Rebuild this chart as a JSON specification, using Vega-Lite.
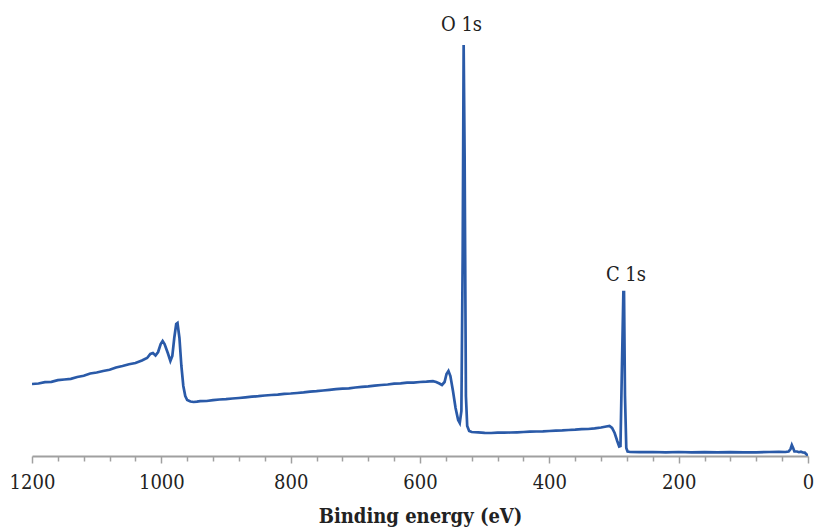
{
  "$schema": "https://vega.github.io/schema/vega-lite/v6.json",
  "width": 776,
  "height": 446,
  "autosize": {"type": "none"},
  "padding": {"left": 32, "top": 10, "right": 6, "bottom": 72},
  "background": "white",
  "config": {"view": {"stroke": null}},
  "datasets": {
    "spectrum": [
      {"E":1200,"I":72},{"E":1190,"I":72.5},{"E":1180,"I":73.8},{"E":1170,"I":74.2},{"E":1160,"I":75.8},
      {"E":1150,"I":76.5},{"E":1140,"I":77.2},{"E":1130,"I":79},{"E":1120,"I":80.2},{"E":1110,"I":82.5},
      {"E":1100,"I":83.5},{"E":1090,"I":85},{"E":1080,"I":86.2},{"E":1070,"I":88.5},{"E":1060,"I":90},
      {"E":1050,"I":91.8},{"E":1040,"I":93},{"E":1030,"I":95.5},{"E":1022,"I":98},{"E":1017,"I":102},
      {"E":1013,"I":103},{"E":1009,"I":100.5},{"E":1005,"I":104},{"E":1001,"I":112},{"E":998,"I":115},
      {"E":995,"I":112},{"E":990,"I":103},{"E":986,"I":95},{"E":983,"I":100},{"E":980,"I":118},
      {"E":977,"I":132},{"E":975,"I":133},{"E":972,"I":118},{"E":969,"I":90},{"E":966,"I":70},
      {"E":963,"I":60},{"E":960,"I":56},{"E":955,"I":54.5},{"E":950,"I":54},{"E":945,"I":54.3},
      {"E":940,"I":54.8},{"E":930,"I":55},{"E":920,"I":55.8},{"E":910,"I":56.5},{"E":900,"I":56.8},
      {"E":890,"I":57.5},{"E":880,"I":58},{"E":870,"I":58.6},{"E":860,"I":59.3},{"E":850,"I":59.8},
      {"E":840,"I":60.5},{"E":830,"I":61},{"E":820,"I":61.4},{"E":810,"I":62.2},{"E":800,"I":62.5},
      {"E":790,"I":63},{"E":780,"I":63.6},{"E":770,"I":64.4},{"E":760,"I":64.8},{"E":750,"I":65.5},
      {"E":740,"I":66.2},{"E":730,"I":66.8},{"E":720,"I":67.3},{"E":710,"I":67.6},{"E":700,"I":68.5},
      {"E":690,"I":69.2},{"E":680,"I":69.6},{"E":670,"I":70.4},{"E":660,"I":71},{"E":650,"I":71.5},
      {"E":640,"I":72.4},{"E":630,"I":72.6},{"E":620,"I":73.3},{"E":610,"I":73.4},{"E":600,"I":74},
      {"E":590,"I":74.3},{"E":580,"I":74.8},{"E":575,"I":74},{"E":570,"I":72.5},{"E":566,"I":71},
      {"E":562,"I":74},{"E":559,"I":82},{"E":556,"I":85},{"E":553,"I":80},{"E":549,"I":65},
      {"E":545,"I":48},{"E":541,"I":36},{"E":538.5,"I":33},{"E":536,"I":45},{"E":534,"I":200},
      {"E":532.5,"I":411},{"E":531,"I":300},{"E":529,"I":60},{"E":527,"I":30},{"E":524,"I":25},
      {"E":520,"I":24},{"E":510,"I":23.6},{"E":500,"I":23.2},{"E":490,"I":23},{"E":480,"I":23.3},
      {"E":470,"I":23.4},{"E":460,"I":23.5},{"E":450,"I":23.7},{"E":440,"I":24},{"E":430,"I":24.3},
      {"E":420,"I":24.5},{"E":410,"I":24.6},{"E":400,"I":25},{"E":390,"I":25.4},{"E":380,"I":25.6},
      {"E":370,"I":26},{"E":360,"I":26.3},{"E":350,"I":26.8},{"E":340,"I":27},{"E":330,"I":27.6},
      {"E":320,"I":28.5},{"E":312,"I":29.5},{"E":307,"I":30},{"E":303,"I":28},{"E":299,"I":23},
      {"E":295,"I":15},{"E":292,"I":9.5},{"E":290,"I":10},{"E":288,"I":80},{"E":285.5,"I":164},
      {"E":284.5,"I":164},{"E":283,"I":60},{"E":281,"I":8},{"E":279,"I":4.5},{"E":275,"I":4},
      {"E":260,"I":3.8},{"E":240,"I":4},{"E":220,"I":3.7},{"E":200,"I":4},{"E":180,"I":3.6},
      {"E":160,"I":3.8},{"E":140,"I":3.6},{"E":120,"I":3.8},{"E":100,"I":3.6},{"E":80,"I":3.7},
      {"E":60,"I":4},{"E":45,"I":4.2},{"E":35,"I":4},{"E":30,"I":4.5},{"E":27,"I":7},
      {"E":25,"I":11},{"E":23,"I":8},{"E":21,"I":4.5},{"E":17,"I":4.5},{"E":14,"I":3.8},
      {"E":11,"I":4.3},{"E":8,"I":3.5},{"E":5,"I":3.4},{"E":3,"I":2},{"E":1,"I":1},{"E":0,"I":0.8}
    ],
    "peaks": [
      {"E":535.8,"I":425,"label":"O 1s"},
      {"E":281.5,"I":175,"label":"C 1s"}
    ]
  },
  "layer": [
    {
      "data": {"name": "spectrum"},
      "mark": {"type": "line", "color": "#2a5aa8", "strokeWidth": 2.7, "clip": true},
      "encoding": {
        "x": {
          "field": "E", "type": "quantitative",
          "scale": {"domain": [0, 1200], "reverse": true, "nice": false, "zero": false},
          "axis": {
            "title": "Binding energy (eV)",
            "values": [0,40,80,120,160,200,240,280,320,360,400,440,480,520,560,600,640,680,720,760,800,840,880,920,960,1000,1040,1080,1120,1160,1200],
            "tickCount": 100,
            "labelExpr": "datum.value % 200 === 0 ? datum.label : ''",
            "format": "d",
            "labelOverlap": false,
            "labelFlush": false,
            "labelFont": "DejaVu Serif Condensed, DejaVu Serif",
            "labelFontSize": 20,
            "labelColor": "#222222",
            "labelPadding": 9,
            "tickSize": {"condition": {"test": "datum.value % 200 === 0", "value": 7}, "value": 5},
            "tickColor": "#a0a0a0",
            "tickWidth": 1.5,
            "domainColor": "#a0a0a0",
            "domainWidth": 2,
            "grid": false,
            "titleFont": "DejaVu Serif Condensed, DejaVu Serif",
            "titleFontWeight": "bold",
            "titleFontSize": 20,
            "titleColor": "#222222",
            "titlePadding": 14
          }
        },
        "y": {
          "field": "I", "type": "quantitative",
          "scale": {"domain": [0, 446], "nice": false, "zero": false},
          "axis": null
        }
      }
    },
    {
      "data": {"name": "peaks"},
      "mark": {"type": "text", "font": "DejaVu Serif Condensed, DejaVu Serif", "fontSize": 20, "color": "#222222", "align": "center", "baseline": "alphabetic"},
      "encoding": {
        "x": {"field": "E", "type": "quantitative"},
        "y": {"field": "I", "type": "quantitative"},
        "text": {"field": "label"}
      }
    }
  ]
}
